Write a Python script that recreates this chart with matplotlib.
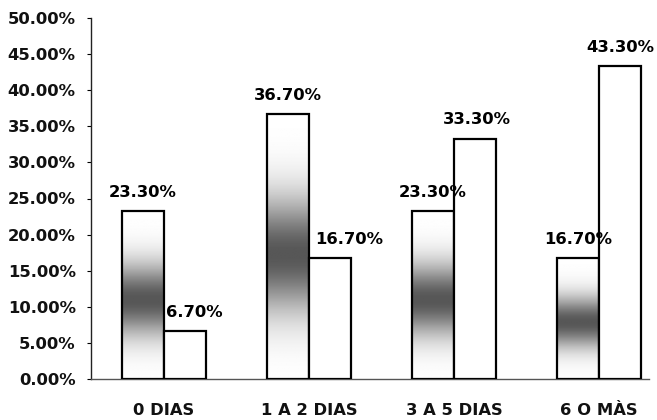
import numpy as np
import matplotlib
matplotlib.use("Agg")
import matplotlib.pyplot as plt
from matplotlib.ticker import FuncFormatter, MultipleLocator

categories = ["0 DIAS", "1 A 2 DIAS", "3 A 5 DIAS", "6 O MÀS"]
series_a = [23.3, 36.7, 23.3, 16.7]
series_b = [6.7, 16.7, 33.3, 43.3]

# label x-offsets in points (style only)
off_a = [0, 0, 0, 0]
off_b = [7, 14, 1, 0]

FS = 11.8
plt.rcParams['font.family'] = ['DejaVu Sans']
fig = plt.figure(figsize=(6.57, 4.20), dpi=100)
ax = fig.add_axes([91/657, 41/420, (649-91)/657, (379-18)/420])

x = np.arange(len(categories))
w = 0.29
bars_a = ax.bar(x - w/2, series_a, w, facecolor='white', edgecolor='black', linewidth=1.6, zorder=3)
bars_b = ax.bar(x + w/2, series_b, w, facecolor='white', edgecolor='black', linewidth=1.6, zorder=3)

# gray gradient inside first-series bars
ny = 200
f = np.linspace(0, 1, ny)[:, None]
grad = 1 - 0.66*np.exp(-((f - 0.47)/0.21)**2)
grad = np.repeat(grad, 10, axis=1)
for b in bars_a:
    x0 = b.get_x(); bw = b.get_width(); h = b.get_height()
    im = ax.imshow(grad, cmap='gray', vmin=0, vmax=1, origin='lower',
                   extent=[x0, x0 + bw, 0, h], aspect='auto', zorder=2.5,
                   interpolation='bilinear')
    im.set_clip_path(b)
for b in bars_a:
    b.set_facecolor('none')

for i, (b, v) in enumerate(zip(bars_a, series_a)):
    ax.annotate(f"{v:.2f}%", (b.get_x() + b.get_width()/2, v), xytext=(off_a[i], 8),
                textcoords='offset points', ha='center', va='bottom',
                fontsize=FS, fontweight='bold', zorder=5)
for i, (b, v) in enumerate(zip(bars_b, series_b)):
    ax.annotate(f"{v:.2f}%", (b.get_x() + b.get_width()/2, v), xytext=(off_b[i], 8),
                textcoords='offset points', ha='center', va='bottom',
                fontsize=FS, fontweight='bold', zorder=5)

ax.set_ylim(0, 50)
ax.set_xlim(-0.503, 3.345)
ax.yaxis.set_major_locator(MultipleLocator(5))
ax.yaxis.set_major_formatter(FuncFormatter(lambda v, p: f"{v:.2f}%"))
ax.set_xticks(x)
ax.set_xticklabels(categories)
ax.tick_params(axis='x', length=0, pad=17.5, labelsize=FS)
ax.tick_params(axis='y', length=3, pad=8, labelsize=FS, direction='out')
for lbl in ax.get_xticklabels() + ax.get_yticklabels():
    lbl.set_fontweight('bold')
    lbl.set_color('#111111')

ax.spines['top'].set_visible(False)
ax.spines['right'].set_visible(False)
ax.spines['left'].set_color('#222222')
ax.spines['bottom'].set_color('#555555')
ax.spines['left'].set_linewidth(1.0)
ax.spines['bottom'].set_linewidth(1.0)

fig.savefig("out.png", dpi=100, facecolor='white')
